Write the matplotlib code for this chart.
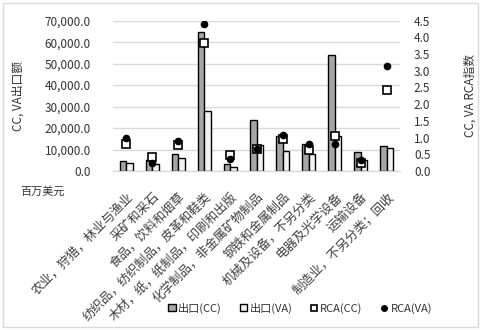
import numpy as np
import matplotlib
matplotlib.use("Agg")
import matplotlib.pyplot as plt
from matplotlib.patches import Rectangle
from matplotlib.lines import Line2D
from matplotlib.ticker import FuncFormatter
from matplotlib.transforms import ScaledTranslation

plt.rcParams["font.family"] = ["Noto Sans CJK SC", "DejaVu Sans"]

categories = [
    "农业，狩猎，林业与渔业", "采矿和采石", "食品，饮料和烟草",
    "纺织品，纺织制品，皮革和鞋类", "木材，纸，纸制品，印刷和出版",
    "化学制品，非金属矿物制品", "钢铁和金属制品", "机械及设备，不另分类",
    "电器及光学设备", "运输设备", "制造业，不另分类；回收",
]
export_cc = [4800, 5000, 8100, 64600, 3100, 23900, 16150, 12400, 54000, 9000, 11800]
export_va = [3600, 3100, 5900, 27950, 2000, 12250, 9300, 7900, 16450, 5000, 10550]
rca_cc = [0.80, 0.41, 0.78, 3.83, 0.47, 0.67, 0.95, 0.63, 1.06, 0.25, 2.43]
rca_va = [1.00, 0.24, 0.91, 4.40, 0.37, 0.67, 1.07, 0.81, 0.80, 0.33, 3.13]

fig = plt.figure(figsize=(4.81, 3.30), dpi=100)
ax = fig.add_axes([113 / 481, 1 - 171 / 330, 287 / 481, 150.3 / 330])
ax2 = ax.twinx()

x = np.arange(len(categories))
w = 0.25
ax.bar(x - w / 2, export_cc, w, color="#a6a6a6", edgecolor="black", linewidth=1.0, zorder=2)
ax.bar(x + w / 2, export_va, w, color="#f2f2f2", edgecolor="black", linewidth=1.0, zorder=2)
ax2.plot(x, rca_cc, ls="none", marker="s", ms=6, mfc="white", mec="black", mew=1.2, zorder=3)
ax2.plot(x, rca_va, ls="none", marker="o", ms=4.5, mfc="black", mec="black", zorder=4)

ax.set_xlim(-0.5, len(categories) - 0.5)
ax.set_ylim(0, 70000)
ax.set_yticks(np.arange(0, 70001, 10000))
ax.yaxis.set_major_formatter(FuncFormatter(lambda v, p: f"{v:,.1f}"))
ax2.set_ylim(0, 4.5)
ax2.set_yticks(np.arange(0, 4.51, 0.5))
ax2.yaxis.set_major_formatter(FuncFormatter(lambda v, p: f"{v:.1f}"))

ax.grid(axis="y", color="#d9d9d9", linewidth=1.0, zorder=0)
ax.set_axisbelow(True)
for a in (ax, ax2):
    for s in ("top", "left", "right"):
        a.spines[s].set_visible(False)
    a.spines["bottom"].set_color("#d9d9d9")
    a.tick_params(length=0, labelsize=8.5, colors="#333333")
ax.tick_params(axis="y", pad=16)
ax2.tick_params(axis="y", pad=10)

# category labels placed by hand under each tick (Excel-style 45° labels)
ax.set_xticks(x)
ax.set_xticklabels([])
lbl_trans = ax.get_xaxis_transform() + ScaledTranslation(0.05, -0.24, fig.dpi_scale_trans)
for xi, lab in zip(x, categories):
    ax.text(xi, 0, lab, transform=lbl_trans, rotation=45, rotation_mode="anchor",
            ha="right", va="center", fontsize=9, color="#404040")

ax.set_ylabel("CC, VA出口额", fontsize=8.5, color="#333333", labelpad=14)
ax2.set_ylabel("CC, VA RCA指数", fontsize=8.5, color="#333333", labelpad=24)
fig.text(20 / 481, 1 - 192 / 330, "百万美元", fontsize=8, color="#333333", va="center")

handles = [
    Rectangle((0, 0), 1, 1, fc="#a6a6a6", ec="black"),
    Rectangle((0, 0), 1, 1, fc="#f2f2f2", ec="black"),
    Line2D([], [], ls="none", marker="s", ms=5, mfc="white", mec="black", mew=1.2),
    Line2D([], [], ls="none", marker="o", ms=4, mfc="black", mec="black"),
]
fig.legend(handles, ["出口(CC)", "出口(VA)", "RCA(CC)", "RCA(VA)"],
           loc="center", bbox_to_anchor=(300 / 481, 1 - 308 / 330), ncol=4,
           frameon=False, fontsize=8, handlelength=0.7, handleheight=0.7,
           handletextpad=0.2, columnspacing=1.6, labelcolor="#333333")

fig.patches.append(Rectangle((3 / 481, 3 / 330), 475 / 481, 324 / 330, transform=fig.transFigure,
                             fill=False, ec="#d9d9d9", lw=1.0))

fig.savefig("out.png", dpi=100)
